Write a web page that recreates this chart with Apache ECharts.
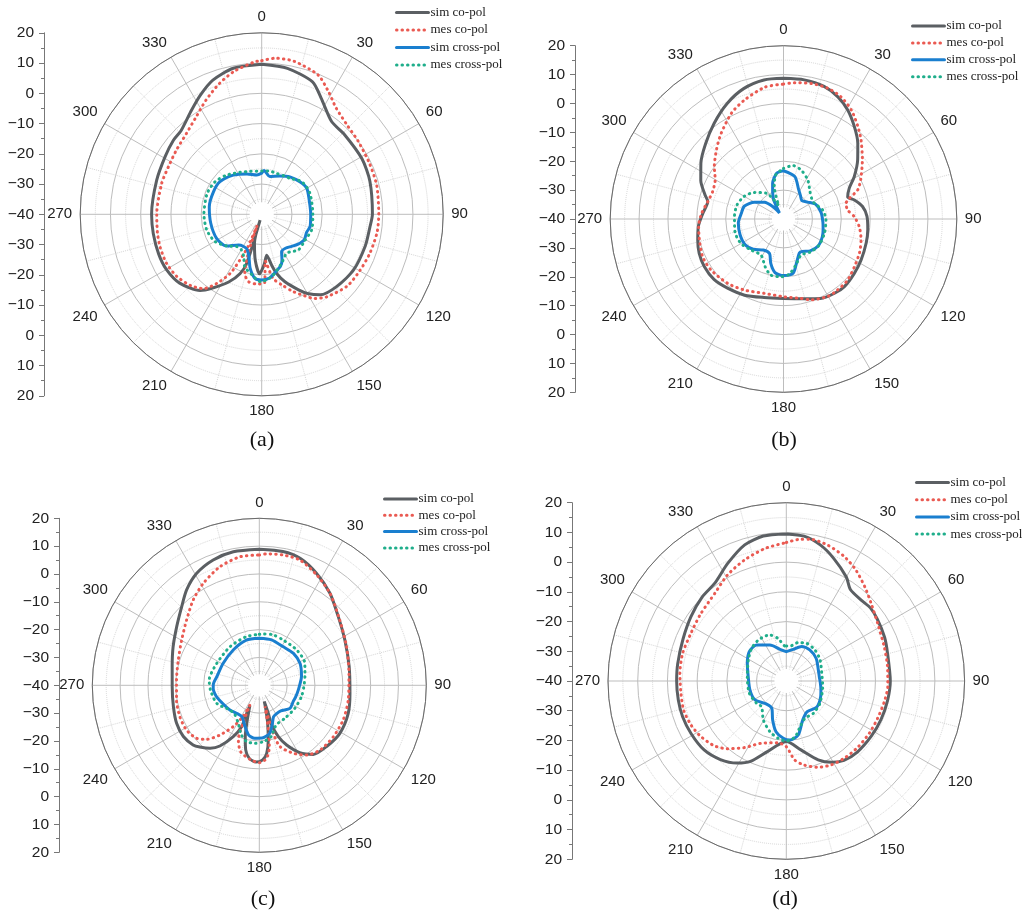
<!DOCTYPE html>
<html><head><meta charset="utf-8">
<script src="https://cdn.jsdelivr.net/npm/echarts@6/dist/echarts.min.js"></script>
<style>html,body{margin:0;padding:0;background:#fff}#c{width:1022px;height:915px}</style>
</head><body><div id="c"></div>
<script>
// ---------- tick labels & names ----------
const angleTickLabels = ['0','30','60','90','120','150','180','210','240','270','300','330'];
const radialTickLabels = ['20','10','0','\u221210','\u221220','\u221230','\u221240','\u221230','\u221220','\u221210','0','10','20'];
const seriesNames = ['sim co-pol','mes co-pol','sim cross-pol','mes cross-pol'];
const panelCaptions = ['(a)','(b)','(c)','(d)'];

// ---------- panel (a) ----------
const aSimCoAng = [0,10,21,27,37,46,61,73,90,97,107,121,134,144,150,154,161,166,169,173,177,182,188,194,195.5,197,200,206,214,219,230,240,249,260,270,288,301,310,316,326,333,340,349,360];
const aSimCoVal = [9.6,9.0,6.9,3.2,-1.6,-2.0,-2.1,-2.6,-3.4,-4.0,-4.2,-4.5,-5.6,-7.1,-9.8,-12.2,-16.4,-19.9,-22.9,-26.4,-23.5,-20.3,-24.7,-30.1,-38,-23.1,-19.2,-15.1,-10.5,-7.6,-4.6,-3.6,-3.5,-3.6,-3.6,-3.5,-2.8,-1.9,-1.6,1.5,4.4,7.2,9.2,9.6];
const aMesCoAng = [0,5,12,22,28.5,35,44,53,65,76,90,99,110,120,130,142,148,152,158,164,170,175.5,177.5,184,191,196,199,202,203,205.5,208,213,218,225,234,243,252,260,270,287,297,307,317,326,334,342,349,357.5,360];
const aMesCoVal = [10.8,11.8,11.7,9.7,6.2,2.9,0.8,0.0,-0.6,-0.8,-1.3,-1.4,-2.0,-2.6,-3.1,-5.3,-7.2,-9.4,-12.5,-15.7,-18.5,-24.5,-17.4,-16.9,-17.3,-19.7,-26.4,-36,-28.4,-23.3,-17.9,-12.8,-8.8,-6.7,-5.2,-4.6,-4.7,-5.0,-5.3,-5.4,-5.4,-4.7,-3.5,-1.2,2.0,5.4,8.1,10.5,10.8];
const aSimXAng = [0,3,12,25,37,50,60,73,90,104,112,121,130,137,145,152,156,160,166,173,180,186,192,197,203,210,217,228,242,260,278,295,308,324,340,353,360];
const aSimXVal = [-26.4,-25.5,-27.2,-26.0,-24.5,-23.4,-22.8,-23.6,-23.8,-23.5,-24.0,-23.6,-24.5,-25.5,-26.3,-26.0,-23.5,-21.8,-20.5,-18.8,-18.3,-18.7,-21.7,-25.5,-27.5,-27.8,-27.3,-24.3,-23.1,-22.9,-22.5,-22.4,-22.5,-24.0,-25.8,-26.9,-26.4];
const aMesXAng = [0,10,20,30,38,51,66,90,107,121,134,147,158,171,181,189,198,203,210,218,228,240,254,270,291,305,318,333,345,360];
const aMesXVal = [-25.7,-25.5,-25.6,-25.3,-24.9,-22.9,-22.6,-23.1,-22.7,-23.3,-23.1,-24.7,-22.5,-19.1,-17.7,-19.7,-21.8,-24.8,-26.5,-26.5,-24.4,-22.1,-21.1,-20.9,-20.7,-21.2,-22.6,-24.4,-25.3,-25.7];

// ---------- panel (b) ----------
const bSimCoAng = [0,8.5,17,24,30.5,37.5,44.5,51.5,59,65,71,75,81,88,97,106,118,127.5,138,145.5,155,165,180,194,207,219,229,239,248,256,265,274,283,287,295,304,314,324,334,343,352,360];
const bSimCoVal = [8.7,8.7,8.0,6.3,3.8,0.3,-3.3,-7.2,-11.4,-14.9,-16.5,-14.6,-12.3,-11.1,-10.6,-10.2,-9.6,-9.1,-8.5,-8.8,-9.6,-11.4,-12.5,-12.0,-10.4,-9.2,-8.1,-8.0,-8.5,-9.4,-10.4,-12.0,-13.1,-11.6,-8.4,-5.5,-2.5,0.9,4.5,7.2,8.6,8.7];
const bMesCoAng = [0,4.5,11.5,18.7,25,32,39,44.5,53,63,68.6,72.6,76,82,88,96,105,114,124,134,143,150,161,168,180,194.5,209,221,235,245,256,265,274,283,291,300,307,316,324,334,342,352,360];
const bMesCoVal = [6.7,7.3,7.9,7.8,6.8,4.4,1.0,-1.7,-5.8,-10.0,-12.4,-16.1,-17.7,-17.6,-15.5,-13.6,-12.2,-11.2,-10.4,-9.3,-9.1,-9.1,-10.4,-11.9,-13.1,-13.4,-11.9,-10.5,-9.3,-9.1,-10.0,-10.5,-11.6,-13.1,-13.7,-12.7,-10.0,-6.6,-3.3,0.9,3.4,6.1,6.7];
const bSimXAng = [0,15,27,36,45,55,65,80,95,105,115,128,140,150,155,162,170,180,189,196,202,213,225,236,250,265,278,288,300,311,319,326,333,338,343,351.5,360];
const bSimXVal = [-23.3,-24.8,-28.5,-30.0,-31.0,-29.8,-27.8,-26.8,-26.3,-25.8,-25.2,-24.8,-25.6,-27.0,-27.0,-24.8,-20.9,-20.4,-21.2,-24.0,-27.1,-27.2,-25.2,-24.0,-24.0,-24.3,-25.3,-25.7,-28.4,-31.2,-34.3,-37.5,-32.5,-30.0,-27.1,-24.0,-23.3];
const bMesXAng = [0,10,20,32,44,55,63,77,91,109,126,140,154,165,174,182,193,201,212,226,240,255,273,287,300,312,326,334,340,344,350,360];
const bMesXVal = [-22.5,-21.2,-22.0,-24.1,-26.8,-28.0,-28.0,-26.1,-25.3,-25.0,-24.7,-25.2,-26.1,-23.5,-20.8,-20.0,-20.1,-22.3,-25.3,-24.5,-23.0,-22.6,-23.0,-23.2,-24.3,-26.3,-29.2,-32.7,-35.0,-28.4,-24.5,-22.5];

// ---------- panel (c) ----------
const cSimCoAng = [0,10,18,27,37.5,49,62,78,95,107.5,121,132,142,149,155.4,159.7,162.7,162.2,163,164.6,167.6,170.7,173.8,177.4,182.5,187.8,191.9,195.3,199.1,205,204.3,203.1,206.9,213,218,224,228,236,245.3,256,269,282,294,305.4,315.4,322.7,330.8,339.8,349,360];
const cSimCoVal = [8.9,8.8,7.9,5.2,1.7,-2.4,-5.2,-7.0,-7.3,-6.5,-6.3,-7.3,-8.5,-11.8,-16.4,-20.3,-25.1,-29.4,-33.9,-31.4,-26.0,-20.1,-15.4,-13.2,-12.4,-13.5,-16.3,-20.9,-26.8,-32.0,-29.0,-23.8,-19.3,-14.0,-11.3,-9.2,-8.0,-7.1,-7.3,-8.2,-8.7,-8.0,-6.1,-3.6,-0.3,3.1,6.1,8.0,8.9,8.9];
const cMesCoAng = [0,3.2,10.4,18,27.5,37.5,51,66,82.4,99.4,112.4,124.7,136.8,145.8,153.4,161.4,163.7,165.1,166.8,168.6,170.7,174.3,180,187.2,195.7,201,203.1,205.5,207.5,212.2,218.4,224.3,229.8,238.4,248.4,260,273.7,287.4,300.3,311.9,322.3,331.2,341.7,351.5,360];
const cMesCoVal = [6.8,7.3,7.6,7.3,4.7,1.7,-2.8,-5.7,-7.5,-7.6,-7.4,-7.6,-8.1,-9.7,-12.7,-16.8,-22.0,-32.1,-28.4,-23.6,-17.7,-13.6,-12.2,-13.2,-15.2,-19.0,-23.8,-32.0,-27.4,-22.5,-17.2,-12.9,-10.5,-9.3,-9.3,-9.8,-10.2,-9.5,-7.7,-4.9,-1.2,1.8,4.9,6.7,6.8];
const cSimXAng = [0,15,32,47,62,78,97,108,115,127,140,150,156,162,168,177,185,192,199,209,220,230,245,255,266,272,281,301,324,344,360];
const cSimXVal = [-23.1,-23.1,-23.7,-23.2,-23.4,-24.5,-25.9,-26.3,-26.5,-26.2,-28.0,-28.0,-27.5,-25.0,-22.3,-21.0,-20.9,-21.7,-24.3,-27.1,-27.0,-26.2,-25.2,-24.1,-23.4,-23.5,-24.4,-24.8,-24.2,-23.1,-23.1];
const cMesXAng = [0,5,15,28,47,64,79,92,105,123,142,157,167,176,184,193,200,209,220,230,247,264,276,297,323,345,360];
const cMesXVal = [-21.7,-21.5,-21.2,-21.6,-21.5,-21.8,-23.3,-24.0,-24.3,-24.8,-25.0,-24.5,-21.1,-19.7,-19.1,-19.3,-21.1,-24.4,-26.3,-26.2,-23.4,-22.4,-21.9,-22.8,-22.6,-21.9,-21.7];

// ---------- panel (d) ----------
const dSimCoAng = [0,7,14,21,30,35,43,49,56,66,75,90,101,112,123,135,144,151,158,168,180,195,204,211,220,230,241,251,260,270,279,292,304,315,324,333.5,343,351,360];
const dSimCoVal = [9.5,9.1,7.2,4.3,0.4,-2.4,-2.9,-2.5,-3.0,-3.8,-4.7,-5.0,-5.3,-5.6,-5.9,-6.2,-7.0,-8.7,-11.4,-16.3,-19.6,-15.4,-10.4,-7.8,-5.5,-3.9,-3.4,-3.1,-3.1,-3.1,-3.0,-2.5,-1.3,0.0,0.8,4.2,7.9,9.4,9.5];
const dMesCoAng = [0,6,10,17,25,32,40,47.5,58,71,82,93,102,112,122,133,143,152,160,168,174,180,188,202,212,221,228,237,245,254,263,274,285,297,308,321,331,341,351,360];
const dMesCoVal = [6.6,8.0,8.4,7.8,6.2,4.1,1.2,-1.3,-3.7,-5.1,-5.6,-5.8,-6.3,-6.8,-7.0,-7.2,-7.5,-8.0,-9.1,-11.1,-13.3,-17.9,-19.0,-17.4,-13.6,-9.8,-7.4,-5.7,-4.7,-4.1,-4.3,-4.1,-3.9,-4.1,-3.4,-1.9,0.8,3.1,5.2,6.6];
const dSimXAng = [0,12.5,24,37,53,71,83,94,104,114.5,131,145.6,157,167.5,176.4,183,191.5,199.3,208,220.5,238.8,256,276.5,294.4,308.4,320.5,335.6,348,360];
const dSimXVal = [-30.1,-29.1,-27.3,-26.9,-27.4,-28.6,-28.8,-28.5,-28.0,-27.3,-26.5,-27.5,-25.8,-21.4,-20.1,-20.7,-22.6,-26.1,-29.6,-29.8,-27.7,-27.4,-27.1,-25.6,-24.1,-24.3,-26.7,-29.0,-30.1];
const dMesXAng = [0,6,17,28,43,58,78,99,124,140,153,163,171,180,188,198,210.5,224,233,252,276,299,313,326,340,349,358,360];
const dMesXVal = [-28.2,-28.2,-26.5,-25.6,-25.8,-26.6,-27.8,-27.6,-26.4,-25.8,-26.0,-24.0,-21.0,-19.8,-20.5,-22.1,-24.8,-28.0,-27.5,-26.9,-26.8,-25.4,-24.0,-23.3,-23.5,-25.4,-28.2,-28.2];

// ---------- layout / style ----------
const panels = [
  {cx:261.7, cy:214.3, R:181.5, axisX:44,  legLeft:395, legTop:6,   legGap:4.5, capX:262, capY:440,
   sets:[[aSimCoAng,aSimCoVal],[aMesCoAng,aMesCoVal],[aSimXAng,aSimXVal],[aMesXAng,aMesXVal]]},
  {cx:783.5, cy:219,   R:173.3, axisX:575, legLeft:911, legTop:19.5,legGap:3.9, capX:784, capY:440,
   sets:[[bSimCoAng,bSimCoVal],[bMesCoAng,bMesCoVal],[bSimXAng,bSimXVal],[bMesXAng,bMesXVal]]},
  {cx:259.3, cy:685.3, R:167,   axisX:59,  legLeft:383, legTop:492.5,legGap:3.3, capX:263, capY:899,
   sets:[[cSimCoAng,cSimCoVal],[cMesCoAng,cMesCoVal],[cSimXAng,cSimXVal],[cMesXAng,cMesXVal]]},
  {cx:786.3, cy:681,   R:178.3, axisX:572, legLeft:915, legTop:476, legGap:4.2, capX:785, capY:899,
   sets:[[dSimCoAng,dSimCoVal],[dMesCoAng,dMesCoVal],[dSimXAng,dSimXVal],[dMesXAng,dMesXVal]]}
];
const styles = [
  {color:'#5b5f63', width:3,   type:'solid'},
  {color:'#ea5a52', width:3,   type:[0.5,5]},
  {color:'#1a7fcf', width:3,   type:'solid'},
  {color:'#1fae8b', width:3,   type:[0.5,5]}
];

const gridCol = '#bdbdbd', minorCol = '#d6d6d6';
const option = {
  animation:false,
  backgroundColor:'#fff',
  polar: panels.map(p=>({center:[p.cx,p.cy], radius:p.R})),
  angleAxis: panels.map((p,i)=>({
    polarIndex:i, type:'value', min:0, max:360, interval:30, startAngle:90, clockwise:true, z:0,
    axisLine:{show:true, lineStyle:{color:'#6a6a6a', width:1}},
    axisTick:{show:false},
    axisLabel:{margin:8, color:'#222', fontSize:15, fontFamily:'Liberation Sans',
      formatter:v=> v>=360 ? '' : angleTickLabels[Math.round(v/30)]},
    splitLine:{show:true, lineStyle:{color:gridCol, width:1}},
    minorTick:{show:false, splitNumber:2},
    minorSplitLine:{show:true, lineStyle:{color:minorCol, width:1, type:'dotted'}}
  })),
  radiusAxis: panels.map((p,i)=>({
    polarIndex:i, type:'value', min:-40, max:20, interval:10, z:0,
    axisLine:{show:false}, axisTick:{show:false}, axisLabel:{show:false},
    splitLine:{show:true, lineStyle:{color:gridCol, width:1}},
    minorTick:{show:false, splitNumber:2},
    minorSplitLine:{show:true, lineStyle:{color:minorCol, width:1, type:'dotted'}}
  })),
  grid: panels.map(p=>({left:p.axisX, top:p.cy-p.R, width:1, height:2*p.R, containLabel:false})),
  xAxis: panels.map((p,i)=>({gridIndex:i, type:'value', show:false, min:0, max:1})),
  yAxis: panels.map((p,i)=>({
    gridIndex:i, type:'value', min:0, max:120, interval:10, position:'left',
    axisLine:{show:true, lineStyle:{color:'#777', width:1}},
    axisTick:{show:true, length:5, lineStyle:{color:'#777'}},
    minorTick:{show:true, splitNumber:2, length:3, lineStyle:{color:'#777'}},
    splitLine:{show:false},
    axisLabel:{color:'#222', fontSize:15.5, fontFamily:'Liberation Sans', margin:10,
      formatter:v=>radialTickLabels[12-Math.round(v/10)]}
  })),
  legend: panels.map(p=>({
    left:p.legLeft, top:p.legTop, orient:'vertical', itemWidth:32, itemHeight:12, itemGap:p.legGap,
    selectedMode:false, padding:0, data:seriesNames,
    itemStyle:{opacity:0, borderWidth:0},
    lineStyle:{width:3},
    textStyle:{fontFamily:'Liberation Serif', fontSize:13, color:'#222', padding:[0,0,0,-3]}
  })),
  graphic: panels.map((p,i)=>[
    {type:'circle', silent:true, z:1, shape:{cx:p.cx, cy:p.cy, r:p.R*4/60}, style:{fill:'#fff'}},
    {type:'text', silent:true, z:5, x:p.capX, y:p.capY,
     style:{text:panelCaptions[i], fill:'#111', font:'22px "Liberation Serif"', textAlign:'center', textVerticalAlign:'middle'}}
  ]).flat(),
  series: []
};
panels.forEach((p,i)=>{
  p.sets.forEach((s,k)=>{
    const [ang, val] = s;
    option.series.push({
      type:'line', name:seriesNames[k], coordinateSystem:'polar', polarIndex:i,
      data: val.map((v,j)=>[v, ang[j]]),
      symbol:'none', showSymbol:false, smooth:0.25, z:3, clip:false,
      lineStyle:{color:styles[k].color, width:styles[k].width, type:styles[k].type, cap:'round'},
      itemStyle:{color:styles[k].color}
    });
  });
  option.series.push({type:'scatter', xAxisIndex:i, yAxisIndex:i, data:[], silent:true});
});
const chart = echarts.init(document.getElementById('c'), null, {renderer:'canvas'});
chart.setOption(option);
</script>
</body></html>
